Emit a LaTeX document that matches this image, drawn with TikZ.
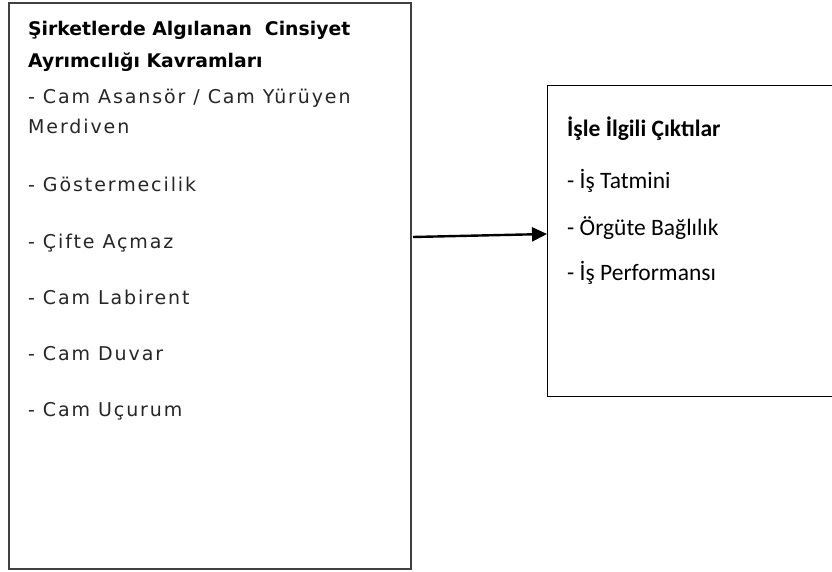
\documentclass[tikz,border=0pt]{standalone}
\usepackage{fontspec}
\usetikzlibrary{arrows.meta}
\setmainfont{DejaVu Sans}
\newfontfamily\calfont{Carlito}
\newfontfamily\spacedfont[LetterSpace=10]{DejaVu Sans}
\begin{document}
\begin{tikzpicture}[x=1pt,y=-1pt,
  lbox/.style={draw=black!75,line width=1.8pt},
  rbox/.style={draw=black,line width=1.3pt},
  ltitle/.style={anchor=base west,inner sep=0pt,font=\fontsize{18.8}{20}\selectfont\bfseries},
  litem/.style={anchor=base west,inner sep=0pt,font=\spacedfont\fontsize{19}{22}\selectfont,text=black!85},
  rtitle/.style={anchor=base west,inner sep=0pt,font=\calfont\fontsize{23.5}{26}\selectfont\bfseries},
  ritem/.style={anchor=base west,inner sep=0pt,font=\calfont\fontsize{23.5}{26}\selectfont},
  conn/.style={-{Triangle[length=15pt,width=14pt]},line width=2.4pt}]
\useasboundingbox (0,0) rectangle (832,572);
\fill[white] (0,0) rectangle (832,572);
\node[lbox,draw,minimum width=402pt,minimum height=566pt,anchor=north west,inner sep=0pt] (L) at (8,2) {};
\node[rbox,draw,minimum width=300pt,minimum height=311pt,anchor=north west,inner sep=0pt] (R) at (547,85) {};
\node[ltitle] (t1) at (28,36) {Şirketlerde Algılanan\ \ Cinsiyet};
\node[ltitle] (t2) at (28,68) {Ayrımcılığı Kavramları};
\node[litem] (i1) at (28,104) {- Cam Asansör / Cam Yürüyen};
\node[litem] (i1b) at (28,134) {Merdiven};
\node[litem] (i2) at (28,192) {- Göstermecilik};
\node[litem] (i3) at (28,248) {- Çifte Açmaz};
\node[litem] (i4) at (28,304) {- Cam Labirent};
\node[litem] (i5) at (28,360) {- Cam Duvar};
\node[litem] (i6) at (28,416) {- Cam Uçurum};
\node[rtitle] (r0) at (567,137) {İşle İlgili Çıktılar};
\node[ritem] (r1) at (567,189) {- İş Tatmini};
\node[ritem] (r2) at (567,235) {- Örgüte Bağlılık};
\node[ritem] (r3) at (567,280) {- İş Performansı};
\coordinate (a0) at (413,237);
\draw[conn] (a0) -- (R.west |- 0,234);
\end{tikzpicture}
\end{document}
